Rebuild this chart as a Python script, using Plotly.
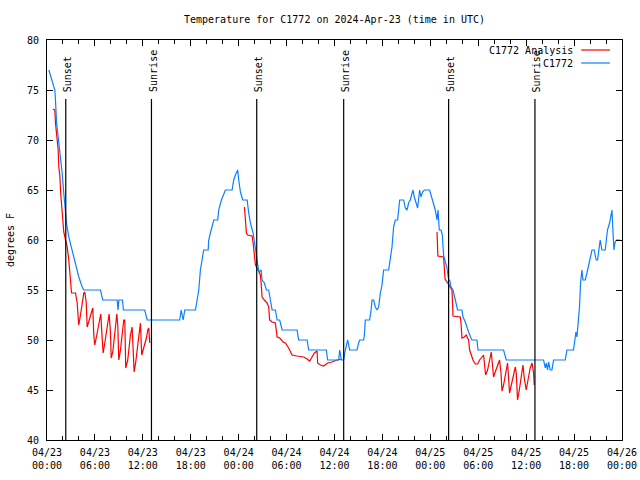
import pandas as pd
import plotly.graph_objects as go

# ---------------- data ----------------
start = pd.Timestamp("2024-04-23 00:00")

# C1772 observations: hours since 04/23 00:00 UTC, temperature (F)
obs_hours = [0.23, 0.65, 0.98, 1.06, 1.19, 1.40, 1.69, 1.90, 2.10, 2.32, 2.44, 2.73, 3.15, 3.57, 3.98,
             4.41, 4.61, 6.70, 6.98, 8.79, 8.89, 9.01, 9.45, 9.57, 12.24, 12.54,
             16.62, 16.80, 17.05, 17.25, 18.59, 18.80, 19.00, 19.21, 19.42, 19.62, 20.18, 20.25,
             20.46, 20.88, 21.38, 21.50, 21.84, 22.13, 22.34, 23.18, 23.38, 23.59, 23.88, 24.01,
             24.22, 24.51, 25.06, 25.26, 25.47, 25.81, 26.10, 26.31, 26.51, 26.81, 26.93, 27.22,
             27.47, 27.76, 27.97, 28.19, 28.60, 28.81, 29.14, 29.44, 31.31, 31.51, 32.57, 32.77,
             34.98, 35.14, 36.52, 36.65, 36.86, 37.15, 37.36, 37.65, 37.90, 38.82, 39.02, 39.15,
             39.65, 39.74, 39.86, 40.40, 40.58, 40.70, 40.90, 41.11, 41.33, 41.53, 41.74, 41.95,
             42.08, 42.15, 42.78, 42.99, 43.20, 43.40, 43.62, 43.90, 44.03, 44.16, 44.66, 44.87,
             45.08, 45.28, 45.49, 45.83, 45.99, 46.21, 46.41, 46.66, 46.83, 47.03, 47.25, 47.91,
             48.09, 48.41, 48.62, 48.84, 48.96, 49.12, 49.34, 49.50, 49.67, 49.88, 50.09, 50.29,
             50.42, 50.59, 50.84, 51.13, 51.41, 51.96, 52.09, 52.38, 52.59, 52.79, 53.09, 53.22,
             53.84, 53.97, 57.17, 57.38, 57.51, 62.18, 62.39, 62.52, 62.68, 62.80, 63.02, 63.23,
             63.43, 64.89, 65.11, 65.93, 66.06, 66.23, 66.36, 66.48, 66.68, 66.81, 66.98, 67.11,
             67.40, 67.61, 67.81, 68.02, 68.24, 68.52, 68.77, 68.94, 69.11, 69.27, 69.48, 69.90,
             70.11, 70.18, 70.44, 70.61, 70.74, 70.86, 70.99, 71.11, 71.28, 71.78]
obs_temps = [77, 76, 75, 74, 71.8, 70.3, 68.5, 66.7, 64.7, 63, 61.7, 60.3, 59, 57.7, 56.3,
             55.3, 55, 55, 54, 54, 53, 54, 54, 53, 53, 52,
             52, 53, 52, 53, 53, 54, 55, 57, 58.3, 59, 59, 60,
             60.7, 62, 62, 63, 64, 64.7, 65, 65, 66, 66.5, 67, 66,
             64.8, 64, 64, 62.7, 61.7, 60.7, 59.3, 58, 56.8, 57, 56, 55.7,
             55, 55, 54, 53, 53, 52, 52, 51, 51, 50, 50, 49,
             49, 48, 48, 49, 48, 48, 49, 50, 49, 49, 49.7, 50,
             50, 50.5, 52, 52, 53, 54, 54, 53.3, 53, 53.3, 54.7, 55.5,
             56.5, 57, 57, 58.3, 59.3, 61.3, 62, 62, 62.8, 64, 64, 63.2,
             63, 63.7, 64, 65, 64.3, 63.7, 63.2, 65, 64.3, 64.8, 65, 65,
             64.5, 63.7, 63, 62, 63, 61, 61, 60.5, 58.4, 57.8, 57.2, 56,
             56, 55.3, 55, 54, 53, 53, 52.3, 51.8, 51.2, 50.8, 50.2, 50,
             50, 49, 49, 48.3, 48, 48, 47.2, 47.7, 47, 47.8, 47, 47,
             48, 48, 49, 49, 50, 50.8, 50.3, 51.5, 53.3, 55.7, 57, 56,
             56, 56.7, 57.5, 58.3, 59, 59, 58, 58, 59, 60, 59, 59,
             60.5, 61, 61.7, 62.5, 63, 61, 59, 59.7, 60, 60]

# C1772 Analysis: three nightly segments (None = gap)
ana_hours = [0.73, 0.98, 1.06, 1.19, 1.28, 1.40, 1.48, 1.60, 1.73, 1.90, 2.10, 2.32, 2.53, 2.73,
             2.94, 3.07, 3.57, 3.78, 3.90, 3.98, 4.19, 4.41, 4.61, 4.73, 4.91, 5.03, 5.23, 5.44,
             5.73, 5.86, 5.98, 6.16, 6.36, 6.61, 6.73, 6.91, 7.03, 7.20, 7.36, 7.61, 7.78, 7.95,
             8.04, 8.24, 8.45, 8.61, 8.74, 8.86, 8.99, 9.20, 9.36, 9.61, 9.74, 9.86, 10.11, 10.29,
             10.45, 10.66, 10.91, 11.11, 11.33, 11.54, 11.70, 11.86, 12.04, 12.24, 12.45, 12.62,
             12.74, 12.87, None,
             24.72, 24.84, 24.97, 25.13, 25.68, 25.81, 25.97, 26.10, 26.31, 26.51, 26.72, 26.81,
             26.93, 27.22, 27.56, 27.76, 27.88, 28.18, 28.60, 28.81, 29.14, 29.56, 29.85, 30.26,
             30.69, 31.31, 32.14, 32.57, 32.89, 33.19, 33.48, 33.82, 33.89, 34.23, 34.64, 35.14,
             35.69, 36.32, 36.95, None,
             48.84, 48.91, 48.94, 49.66, 49.75, 49.84, 50.09, 50.29, 50.50, 50.71, 50.79, 50.84,
             51.75, 51.84, 51.96, 52.25, 52.50, 52.79, 52.92, 53.09, 53.34, 53.63, 53.92, 54.17,
             54.47, 54.67, 54.79, 54.92, 55.17, 55.42, 55.63, 55.72, 55.92, 56.13, 56.42, 56.67,
             56.85, 56.97, 57.17, 57.38, 57.67, 57.92, 58.14, 58.35, 58.64, 58.76, 58.92, 59.14,
             59.35, 59.60, 59.76, 60.01, 60.23, 60.51, 60.73, 60.93, 61.01]
ana_temps = [73.1, 73, 71.7, 70.8, 69.8, 69, 67.3, 66.5, 64.5, 62.5, 60.8, 60, 59.3, 58,
             55.8, 54.7, 54.7, 53.7, 52.3, 51.5, 52.5, 53.5, 54.7, 54.8, 53.8, 51.3, 51.8, 52.5,
             53.2, 50.5, 49.5, 50.2, 51, 52.2, 52.6, 50.2, 48.7, 49.5, 50.5, 51.7, 52.6, 50.7,
             48.2, 48.8, 50.3, 51.7, 52.6, 51.5, 48, 49, 50.5, 52, 52, 47.2, 48, 49.3,
             50.5, 51.3, 46.8, 47.8, 49.2, 50.5, 51.7, 48.5, 49, 49.7, 50.2, 51,
             51.2, 49.7, None,
             63.3, 62, 60.7, 60.5, 60.4, 59.7, 58.3, 57.5, 57.2, 56.8, 56.5, 55.7,
             54.3, 54, 53.7, 53.3, 52, 51.8, 51.7, 50.3, 50.2, 49.8, 49.7, 49.2,
             48.5, 48.4, 48.3, 48.1, 47.9, 48.3, 48.7, 48.9, 47.7, 47.5, 47.4, 47.7,
             47.8, 48, 48.1, None,
             60.8, 59.7, 58.4, 58.3, 57.2, 56.1, 55.8, 55.5, 55.3, 55, 53.5, 52.4,
             52.3, 51.7, 50.2, 50.3, 50.5, 50, 49, 48.5, 48, 47.6, 47.6, 48,
             48.3, 48.5, 47.5, 46.5, 47, 48, 48.8, 48, 46.3, 46.8, 47.5, 48,
             46.7, 44.9, 45.5, 46.3, 47.7, 44.7, 45.5, 46.5, 47.3, 46.7, 44, 45,
             46.2, 47.5, 46.2, 45, 46, 47.2, 47.7, 46.7, 45.5]

# Sunset / sunrise events (hours since start)
event_hours = [2.35, 13.08, 26.26, 37.15, 50.29, 61.10]
event_labels = ["Sunset", "Sunrise", "Sunset", "Sunrise", "Sunset", "Sunrise"]

# axis ticks
xtick_hours = list(range(0, 73, 6))
xtick_labels = ["04/23<br>00:00", "04/23<br>06:00", "04/23<br>12:00", "04/23<br>18:00",
                "04/24<br>00:00", "04/24<br>06:00", "04/24<br>12:00", "04/24<br>18:00",
                "04/25<br>00:00", "04/25<br>06:00", "04/25<br>12:00", "04/25<br>18:00",
                "04/26<br>00:00"]
ytick_vals = [40, 45, 50, 55, 60, 65, 70, 75, 80]

series_names = ["C1772 Analysis", "C1772"]
series_colors = ["#ff0000", "#0a80ff"]


def to_time(hours):
    return [None if h is None else start + pd.Timedelta(hours=h) for h in hours]


FONT = "DejaVu Sans Mono"
fig = go.Figure()

fig.add_trace(go.Scatter(x=to_time(ana_hours), y=ana_temps, mode="lines",
                         name=series_names[0], line=dict(color=series_colors[0], width=1.2),
                         connectgaps=False, showlegend=False))
fig.add_trace(go.Scatter(x=to_time(obs_hours), y=obs_temps, mode="lines",
                         name=series_names[1], line=dict(color=series_colors[1], width=1.2),
                         showlegend=False))

event_top = 74.1
for h, lab in zip(event_hours, event_labels):
    t = start + pd.Timedelta(hours=h)
    fig.add_shape(type="line", xref="x", yref="y", x0=t, x1=t, y0=40, y1=event_top,
                  line=dict(color="black", width=1.2))
    fig.add_annotation(x=t, y=event_top + 0.5, xref="x", yref="y", text=lab,
                       textangle=-90, showarrow=False, xanchor="center", yanchor="bottom",
                       xshift=1.5, font=dict(family=FONT, size=10, color="black"))

# manual gnuplot-style legend (text then line sample)
leg_y = [0.975, 0.9425]
for name, col, yy in zip(series_names, series_colors, leg_y):
    fig.add_annotation(x=0.918, y=yy, xref="paper", yref="paper", text=name,
                       showarrow=False, xanchor="right", yanchor="middle",
                       font=dict(family=FONT, size=10, color="black"))
    fig.add_shape(type="line", xref="paper", yref="paper", x0=0.929, x1=0.979, y0=yy, y1=yy,
                  line=dict(color=col, width=1.2))

fig.update_layout(
    width=640, height=480, autosize=False,
    margin=dict(l=47, r=18, t=40, b=40, autoexpand=False),
    paper_bgcolor="white", plot_bgcolor="white",
    font=dict(family=FONT, size=10, color="black"),
    title=dict(text="Temperature for C1772 on 2024-Apr-23 (time in UTC)",
               x=0.5, xref="paper", y=1 - 19 / 480, yref="container",
               xanchor="center", yanchor="middle",
               font=dict(family=FONT, size=10, color="black")),
    showlegend=False,
)

fig.update_xaxes(
    range=[start, start + pd.Timedelta(hours=72)],
    tickvals=to_time(xtick_hours), ticktext=xtick_labels,
    ticks="inside", ticklen=6, tickcolor="black", tickwidth=1,
    ticklabelstandoff=3, ticklabeloverflow="allow",
    minor=dict(dtick=2 * 3600 * 1000, ticks="inside", ticklen=4, tickcolor="black", showgrid=False),
    showline=True, linecolor="black", linewidth=1, mirror="ticks",
    showgrid=False, zeroline=False,
    tickfont=dict(family=FONT, size=10, color="black"),
)
fig.update_yaxes(
    range=[40, 80], tickvals=ytick_vals,
    ticks="inside", ticklen=6, tickcolor="black", tickwidth=1,
    ticklabelstandoff=5,
    showline=True, linecolor="black", linewidth=1, mirror="ticks",
    showgrid=False, zeroline=False,
    tickfont=dict(family=FONT, size=10, color="black"),
    title=dict(text="degrees F", standoff=10, font=dict(family=FONT, size=10, color="black")),
)

fig.write_html("out.html", config={"displayModeBar": False, "responsive": False},
               post_script="document.documentElement.style.overflow='hidden';"
                           "document.body.style.overflow='hidden';"
                           "document.body.style.margin='0';")
